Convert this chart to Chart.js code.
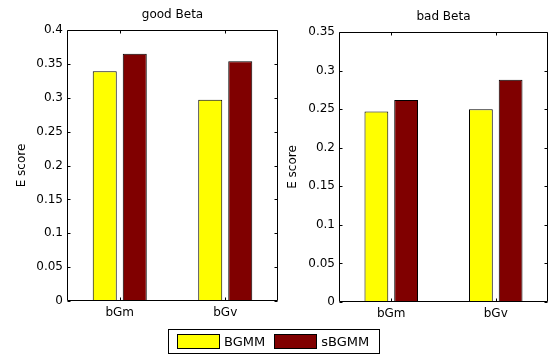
<!DOCTYPE html>
<html>
<head>
<meta charset="utf-8">
<script src="https://cdn.jsdelivr.net/npm/chart.js@4/dist/chart.umd.min.js"></script>
<style>
  html, body { margin: 0; padding: 0; background: #fff; }
  #wrap { position: relative; width: 550px; height: 356px; overflow: hidden; font-family: 'DejaVu Sans', sans-serif; }
  canvas { position: absolute; top: 0; }
  #legend {
    position: absolute; left: 168px; top: 329px; width: 210px; height: 23px;
    border: 1px solid #000; display: flex; align-items: center; font-size: 13px; color: #000;
  }
  .item { display: flex; align-items: center; }
  .swatch { width: 41px; height: 13px; border: 1px solid #000; margin-right: 4px; }
</style>
</head>
<body>
<div id="wrap">
  <canvas id="good" width="290" height="330" style="left:0"></canvas>
  <canvas id="bad" width="270" height="330" style="left:280px"></canvas>
  <div id="legend"></div>
</div>
<script>
// data
const categories = ['bGm', 'bGv'];
const seriesNames = ['BGMM', 'sBGMM'];
const seriesColors = ['#ffff00', '#800000'];

const goodBGMM = [0.339, 0.297];
const goodSBGMM = [0.365, 0.354];
const badBGMM = [0.247, 0.250];
const badSBGMM = [0.262, 0.288];

const goodTicks = [0, 0.05, 0.1, 0.15, 0.2, 0.25, 0.3, 0.35, 0.4];
const badTicks = [0, 0.05, 0.1, 0.15, 0.2, 0.25, 0.3, 0.35];

const FONT = { family: "'DejaVu Sans', sans-serif", size: 12 };

// matlab style box + inward ticks
const boxPlugin = {
  id: 'box',
  afterDraw(chart) {
    const { ctx, chartArea: a, scales: { x, y } } = chart;
    const L = Math.round(a.left) + 0.5, R = Math.round(a.right) - 0.5;
    const T = Math.round(a.top) + 0.5, B = Math.round(a.bottom) - 0.5;
    ctx.save();
    ctx.strokeStyle = '#000';
    ctx.lineWidth = 1;
    ctx.beginPath();
    ctx.rect(L, T, R - L, B - T);
    y.ticks.forEach(t => {
      const py = Math.round(y.getPixelForValue(t.value)) + 0.5;
      ctx.moveTo(L, py); ctx.lineTo(L + 3, py);
      ctx.moveTo(R, py); ctx.lineTo(R - 3, py);
    });
    categories.forEach((c, i) => {
      const px = Math.round(x.getPixelForValue(i)) + 0.5;
      ctx.moveTo(px, B); ctx.lineTo(px, B - 3);
      ctx.moveTo(px, T); ctx.lineTo(px, T + 3);
    });
    ctx.stroke();
    ctx.restore();
  }
};

function makeChart(id, title, a, b, ticks, o) {
  return new Chart(document.getElementById(id), {
    type: 'bar',
    data: {
      labels: categories,
      datasets: [a, b].map((d, i) => ({
        label: seriesNames[i],
        data: d,
        backgroundColor: seriesColors[i],
        borderColor: '#000',
        borderWidth: 1,
        categoryPercentage: 0.569,
        barPercentage: 0.8
      }))
    },
    options: {
      responsive: false,
      animation: false,
      devicePixelRatio: 1,
      layout: { padding: { left: 0, right: o.padRight, top: 0, bottom: 0 } },
      plugins: {
        legend: { display: false },
        tooltip: { enabled: false },
        title: {
          display: true, text: title, color: '#000', fullSize: false,
          font: { ...FONT, weight: 'normal' },
          padding: { top: o.titleTop, bottom: 7.8 }
        }
      },
      scales: {
        x: {
          grid: { display: false, drawTicks: false },
          border: { display: false },
          ticks: { color: '#000', font: FONT, padding: 5 },
          afterFit: s => { s.height = o.xHeight; }
        },
        y: {
          min: 0,
          max: ticks[ticks.length - 1],
          grid: { display: false, drawTicks: false },
          border: { display: false },
          ticks: { color: '#000', font: FONT, padding: 4, callback: v => String(+(+v).toFixed(2)) },
          afterBuildTicks: s => { s.ticks = ticks.map(v => ({ value: v })); },
          title: { display: true, text: 'E score', color: '#000', font: FONT, padding: { top: o.yTitlePad, bottom: 0 } },
          afterFit: s => { s.width = o.yWidth; }
        }
      }
    },
    plugins: [boxPlugin]
  });
}

makeChart('good', 'good Beta', goodBGMM, goodSBGMM, goodTicks,
  { padRight: 12, titleTop: 7.8, xHeight: 29, yWidth: 67, yTitlePad: 14.5 });
makeChart('bad', 'bad Beta', badBGMM, badSBGMM, badTicks,
  { padRight: 2, titleTop: 9.8, xHeight: 28, yWidth: 59, yTitlePad: 6.1 });

// shared legend under both plots
const legend = document.getElementById('legend');
seriesNames.forEach((name, i) => {
  const item = document.createElement('div');
  item.className = 'item';
  item.style.marginLeft = i === 0 ? '8px' : '9px';
  const sw = document.createElement('span');
  sw.className = 'swatch';
  sw.style.background = seriesColors[i];
  const txt = document.createElement('span');
  txt.textContent = name;
  item.appendChild(sw);
  item.appendChild(txt);
  legend.appendChild(item);
});
</script>
</body>
</html>
